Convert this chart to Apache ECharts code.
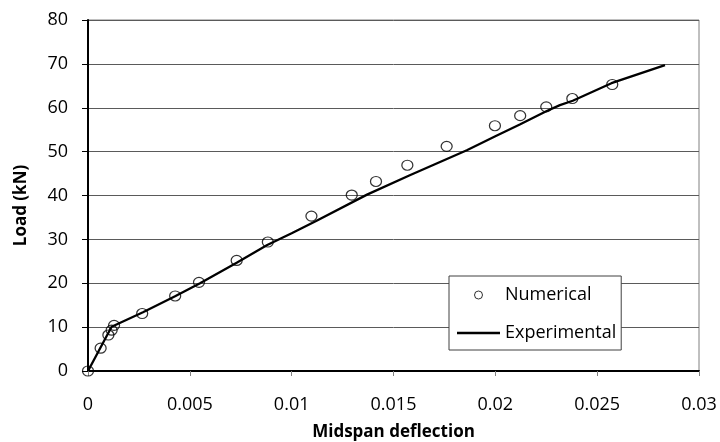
<!DOCTYPE html>
<html>
<head>
<meta charset="utf-8">
<script src="https://cdn.jsdelivr.net/npm/echarts@6/dist/echarts.min.js"></script>
<style>
html,body{margin:0;padding:0;background:#fff;}
#chart{width:720px;height:442px;}
</style>
</head>
<body>
<div id="chart"></div>
<script>
// Numerical results (deflection, load kN)
const numericalX = [0, 0.00062, 0.0010, 0.00116, 0.00128, 0.00266, 0.00428, 0.00545, 0.0073, 0.00883, 0.01097, 0.01295, 0.01414, 0.01568, 0.01761, 0.01998, 0.02122, 0.0225, 0.02378, 0.02574];
const numericalY = [0, 5.2, 8.2, 9.3, 10.4, 13.1, 17.1, 20.2, 25.2, 29.4, 35.3, 40.1, 43.2, 46.9, 51.2, 55.9, 58.2, 60.2, 62.1, 65.3];
// Experimental curve
const experimentalX = [0, 0.00116, 0.0027, 0.0043, 0.0055, 0.0073, 0.0088, 0.0100, 0.0112, 0.0137, 0.0158, 0.0186, 0.0200, 0.0212, 0.0225, 0.02317, 0.0238, 0.0257, 0.02833];
const experimentalY = [0, 10.1, 13.4, 17.1, 20.0, 24.7, 28.7, 31.4, 34.2, 40.2, 44.6, 50.3, 53.5, 56.2, 59.2, 60.6, 61.6, 65.6, 69.7];
const xTickLabels = ['0', '0.005', '0.01', '0.015', '0.02', '0.025', '0.03'];
const yTickLabels = ['0', '10', '20', '30', '40', '50', '60', '70', '80'];

const numericalData = numericalX.map((x, i) => [x, numericalY[i]]);
const experimentalData = experimentalX.map((x, i) => [x, experimentalY[i]]);

const chart = echarts.init(document.getElementById('chart'), null, {renderer: 'canvas'});
const font = '"Open Sans", sans-serif';
chart.setOption({
  animation: false,
  backgroundColor: '#fff',
  grid: {left: 88, right: 21, top: 20, bottom: 71, show: true, borderColor: '#808080', borderWidth: 1,
    containLabel: false, outerBoundsMode: 'none'},
  legend: {
    orient: 'vertical',
    left: 449, top: 276,
    backgroundColor: '#fff',
    borderColor: '#404040', borderWidth: 1,
    padding: [10, 5, 8, 8],
    itemWidth: 43, itemHeight: 8, itemGap: 20,
    textStyle: {fontFamily: font, fontSize: 18, color: '#000'},
    data: [
      {name: 'Numerical', itemStyle: {borderWidth: 1}},
      {name: 'Experimental', icon: 'path://M0,0H43V2.3H0Z', itemStyle: {color: '#000', borderWidth: 0}}
    ]
  },
  xAxis: {
    type: 'value', min: 0, max: 0.03, interval: 0.005,
    name: 'Midspan deflection', nameLocation: 'middle', nameGap: 53,
    nameTextStyle: {fontFamily: font, fontSize: 17, fontWeight: 'bold', color: '#000'},
    axisLine: {show: true, onZero: false, lineStyle: {color: '#000', width: 2}},
    axisTick: {show: true, length: 5, lineStyle: {color: '#808080'}},
    splitLine: {show: false},
    axisLabel: {margin: 25, fontFamily: font, fontSize: 18, color: '#000',
      formatter: (v) => { const i = Math.round(v / 0.005); return xTickLabels[i] !== undefined ? xTickLabels[i] : ''; }}
  },
  yAxis: {
    type: 'value', min: 0, max: 80, interval: 10,
    name: 'Load (kN)', nameLocation: 'middle', nameGap: 58,
    nameTextStyle: {fontFamily: font, fontSize: 17, fontWeight: 'bold', color: '#000', padding: [0, 20, 0, 0]},
    axisLine: {show: true, onZero: false, lineStyle: {color: '#000', width: 2}},
    axisTick: {show: true, length: 6, lineStyle: {color: '#000'}},
    splitLine: {show: true, lineStyle: {color: '#5a5a5a', width: 1}},
    axisLabel: {margin: 20, fontFamily: font, fontSize: 18, color: '#000',
      formatter: (v) => { const i = Math.round(v / 10); return yTickLabels[i] !== undefined ? yTickLabels[i] : ''; }}
  },
  series: [
    {
      name: 'Numerical', type: 'scatter', data: numericalData,
      symbol: 'circle', symbolSize: [11, 10], z: 3,
      itemStyle: {color: 'rgba(255,255,255,0)', borderColor: '#000', borderWidth: 1.2}
    },
    {
      name: 'Experimental', type: 'line', data: experimentalData,
      symbol: 'none', z: 2,
      lineStyle: {color: '#000', width: 2.3},
      itemStyle: {color: '#000'}
    }
  ]
});
</script>
</body>
</html>
